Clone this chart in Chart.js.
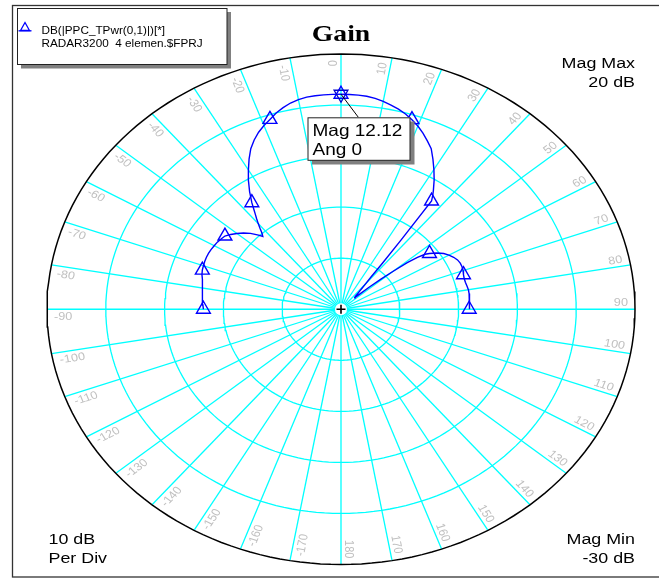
<!DOCTYPE html>
<html><head><meta charset="utf-8">
<script src="https://cdn.jsdelivr.net/npm/chart.js@4"></script>
<style>html,body{margin:0;padding:0;background:#fff;}#wrap{position:relative;width:659px;height:578px;}</style>
</head><body><div id="wrap"><canvas id="c"></canvas></div>
<script>
// ---- data ----
const chartTitle = 'Gain';
const seriesName = 'DB(|PPC_TPwr(0,1)|)[*]';
const seriesSource = 'RADAR3200  4 elemen.$FPRJ';
const magMin = -30, magMax = 20, magPerDiv = 10;
const magGrid = [-20, -10, 0, 10];
const angleTicks = [0,10,20,30,40,50,60,70,80,90,100,110,120,130,140,150,160,170,180,
  -170,-160,-150,-140,-130,-120,-110,-100,-90,-80,-70,-60,-50,-40,-30,-20,-10];
const angles = [-90,-88,-86,-84,-82,-80,-78,-76,-74,-72,-70,-68,-66,-64,-62,-60,-58,-56,-54,-52,-50,-48,-46,-44,-43,-42,-41,-40,-39,-38,-37,-36,-34,-32,-30,-28,-26,-24,-22,-20,-18,-16,-14,-12,-10,-8,-6,-4,-2,0,
  2,4,6,8,10,12,14,16,18,20,22,24,26,28,30,32,34,35,36,37,38,39,40,41,42,43,44,45,46,47,48,49,50,51,52,53,54,56,58,60,62,64,66,68,70,72,74,76,78,80,82,84,86,88,90];
const gainDb = [-6.6,-6.5,-6.4,-6.3,-6.2,-6.1,-5.9,-5.65,-5.4,-5.2,-5.1,-5.0,-4.95,-4.95,-5.0,-5.1,-5.2,-5.4,-5.6,-6.2,-6.9,-7.7,-8.6,-9.8,-10.5,-9.9,-9.0,-8.1,-7.2,-6.3,-5.3,-4.2,-2.2,-0.3,1.5,3.3,5.0,6.3,7.4,8.3,9.1,10.0,10.7,11.3,11.7,11.95,12.05,12.1,12.12,12.12,
  12.1,12.05,11.95,11.7,11.35,10.9,10.4,9.8,9.05,8.2,7.2,6.1,5.0,3.3,1.6,-0.1,-1.9,-2.8,-3.8,-13.0,-18.5,-22.0,-23.5,-24.5,-25.3,-25.9,-26.4,-26.7,-26.7,-25.5,-23.5,-21.0,-18.5,-15.5,-13.5,-12.1,-11.4,-10.3,-9.4,-8.8,-8.3,-7.95,-7.8,-7.8,-7.9,-8.1,-8.2,-8.2,-8.1,-8.0,-8.0,-8.0,-8.1,-8.1,-8.2];
const markerAngles = [-90,-72,-54,-36,-18,0,18,36,54,72,90];
const markedAngle = 0;

// ---- helpers ----
const D = Math.PI / 180;
const R = magMax - magMin;
function toXY(ang, mag) { const r = mag - magMin; return {x: r * Math.sin(ang * D), y: r * Math.cos(ang * D)}; }
function ring(mag) { const pts = []; for (let a = 0; a <= 360; a += 2) pts.push(toXY(a, mag)); return pts; }

const CYAN = '#00ffff', BLUE = '#0000ff';
const datasets = [];
datasets.push({ data: [toXY(markedAngle, gainDb[angles.indexOf(markedAngle)])], pointStyle: 'triangle', rotation: 180,
  pointRadius: 8, pointBorderColor: '#0000cc', pointBackgroundColor: 'rgba(0,0,0,0)', pointBorderWidth: 1.3, order: 0, clip: false });
datasets.push({ data: angles.map((a, i) => toXY(a, gainDb[i])), showLine: true, borderColor: BLUE, borderWidth: 1.4, tension: 0,
  pointStyle: 'triangle', pointRadius: c => markerAngles.includes(angles[c.dataIndex]) ? 8 : 0,
  pointBorderColor: BLUE, pointBackgroundColor: 'rgba(0,0,0,0)', pointBorderWidth: 1.4, order: 1, clip: false });
datasets.push({ data: [{x: 0, y: 0}], pointStyle: 'cross', pointRadius: 4.5, pointBorderColor: '#000', pointBorderWidth: 1.6, order: 2, clip: false });
datasets.push({ data: [{x: 0, y: 0}], pointStyle: 'circle', pointRadius: 6, pointBorderWidth: 0, pointBackgroundColor: '#fff', pointBorderColor: '#fff', order: 3, clip: false });
datasets.push({ data: ring(magMax), showLine: true, borderColor: '#000', borderWidth: 1.5, pointRadius: 0, order: 5, clip: false });
magGrid.forEach(m => datasets.push({ data: ring(m), showLine: true, borderColor: CYAN, borderWidth: 1.3, pointRadius: 0, order: 10, clip: false }));
angleTicks.forEach(a => datasets.push({ data: [{x: 0, y: 0}, toXY(a, magMax)], showLine: true, borderColor: CYAN, borderWidth: 1.3, pointRadius: 0, order: 11, clip: false }));

const S = 1.152; // horizontal stretch of the picture
function txt(ctx, s, x, y, font, align, color, rot, dy) {
  ctx.save(); ctx.translate(x, y); ctx.scale(S, 1); if (rot) ctx.rotate(rot);
  ctx.font = font; ctx.textAlign = align || 'left'; ctx.textBaseline = 'alphabetic'; ctx.fillStyle = color || '#000';
  ctx.fillText(s, 0, dy || 0); ctx.restore();
}

const deco = {
  id: 'deco',
  afterDatasetsDraw(chart) {
    const {ctx, scales: {x, y}} = chart;
    const px = (ang, r) => [x.getPixelForValue(r * Math.sin(ang * D)), y.getPixelForValue(r * Math.cos(ang * D))];
    // angle labels
    angleTicks.forEach(a => {
      const [ax, ay] = px(a, R - 1.2);
      const right = a > 0 && a <= 180 || a === 0;
      if (right) txt(ctx, String(a), ax, ay, '11px "Liberation Sans", Arial', 'right', '#c0c0c0', (a - 90) * D, -3.5);
      else txt(ctx, String(a), ax, ay, '11px "Liberation Sans", Arial', 'left', '#c0c0c0', (a + 90) * D, 11);
    });
    // frame
    ctx.save(); ctx.strokeStyle = '#333'; ctx.lineWidth = 1.3; ctx.strokeRect(12.5, 5.5, 700, 571.5); ctx.restore();
    // title
    txt(ctx, chartTitle, 341, 41, 'bold 24px "Liberation Serif", "Times New Roman", serif', 'center');
    // legend box
    ctx.save();
    ctx.fillStyle = '#808080'; ctx.fillRect(21, 12, 210, 56.5);
    ctx.fillStyle = '#fff'; ctx.fillRect(17, 8, 210, 56.5);
    ctx.strokeStyle = '#222'; ctx.lineWidth = 1; ctx.strokeRect(17.5, 8.5, 209.5, 56);
    ctx.strokeStyle = BLUE; ctx.lineWidth = 1.3;
    ctx.beginPath(); ctx.moveTo(25, 22.5); ctx.lineTo(29.5, 30.5); ctx.lineTo(20.5, 30.5); ctx.closePath(); ctx.stroke();
    ctx.beginPath(); ctx.moveTo(18.5, 30.8); ctx.lineTo(31.5, 30.8); ctx.stroke();
    ctx.restore();
    txt(ctx, seriesName, 41.5, 33.5, '10.2px "Liberation Sans", Arial', 'left');
    txt(ctx, seriesSource, 41.5, 46.5, '10.2px "Liberation Sans", Arial', 'left');
    // corner texts
    const f = '15.5px "Liberation Sans", Arial';
    txt(ctx, 'Mag Max', 635, 67.5, f, 'right');
    txt(ctx, magMax + ' dB', 635, 86.5, f, 'right');
    txt(ctx, magPerDiv + ' dB', 48.5, 544.3, f, 'left');
    txt(ctx, 'Per Div', 48.5, 563.3, f, 'left');
    txt(ctx, 'Mag Min', 635, 544.3, f, 'right');
    txt(ctx, magMin + ' dB', 635, 563.3, f, 'right');
    // marker annotation
    const mv = gainDb[angles.indexOf(markedAngle)];
    const [mx, my] = px(markedAngle, mv - magMin);
    ctx.save();
    ctx.strokeStyle = '#000'; ctx.lineWidth = 1;
    ctx.beginPath(); ctx.moveTo(mx, my); ctx.lineTo(358.5, 117.5); ctx.stroke();
    ctx.fillStyle = '#808080'; ctx.fillRect(312, 121.5, 102.5, 43);
    ctx.fillStyle = '#fff'; ctx.fillRect(307.5, 117.3, 102.5, 43);
    ctx.strokeStyle = '#222'; ctx.strokeRect(308, 117.8, 102, 42.5);
    ctx.restore();
    txt(ctx, 'Mag ' + mv, 312.5, 136, '16.5px "Liberation Sans", Arial', 'left');
    txt(ctx, 'Ang ' + markedAngle, 312.5, 155, '16.5px "Liberation Sans", Arial', 'left');
  }
};

new Chart(document.getElementById('c'), {
  type: 'scatter',
  data: { datasets },
  options: {
    responsive: true, maintainAspectRatio: false, animation: false, events: [],
    layout: { padding: { left: 47, right: 24, top: 54, bottom: 13.5 } },
    scales: { x: { type: 'linear', min: -R, max: R, display: false }, y: { type: 'linear', min: -R, max: R, display: false } },
    plugins: { legend: { display: false }, tooltip: { enabled: false }, title: { display: false } }
  },
  plugins: [deco]
});
</script></body></html>
